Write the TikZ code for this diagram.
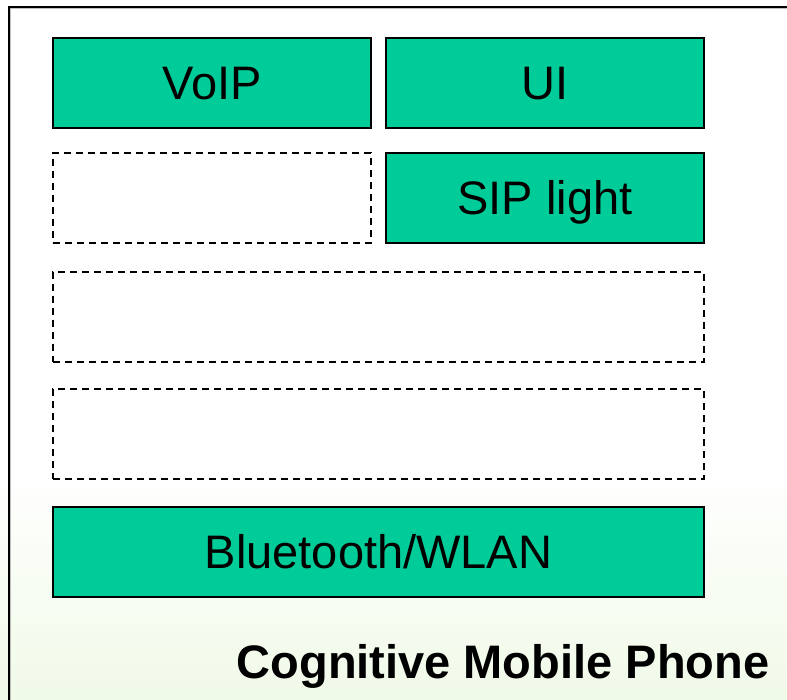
\documentclass[tikz,border=0pt]{standalone}
\usepackage{fontspec}
\setmainfont{Liberation Sans}
\definecolor{boxgreen}{RGB}{0,204,153}
\definecolor{bgtint}{RGB}{240,250,232}
\begin{document}
\begin{tikzpicture}[x=1pt,y=-1pt,
  layer/.style={rectangle, inner sep=0pt, outer sep=0pt, minimum height=90pt,
    text height=33.5pt, text depth=0pt, font=\fontsize{47}{50}\selectfont},
  greenbox/.style={layer, draw=black, line width=2pt, fill=boxgreen},
  emptybox/.style={layer, draw=black, line width=1.3pt, dash pattern=on 7pt off 5pt},
  half/.style={minimum width=318pt},
  full/.style={minimum width=651pt}]
\useasboundingbox (0,0) rectangle (787,700);
\clip (0,0) rectangle (787,700);
\fill[white] (0,0) rectangle (787,700);
\shade[top color=white, bottom color=bgtint] (0,470) rectangle (787,700);
% outer frame
\draw[line width=3pt, black!25] (9.5,720) -- (9.5,8) -- (800,8);
\draw[line width=2pt] (8.5,720) -- (8.5,7) -- (800,7);
% layers
\node[greenbox, half] (voip) at (212,83) {VoIP};
\node[greenbox, half] (ui) at (545,83) {UI};
\node[emptybox, half] (empty1) at (212,198) {};
\node[greenbox, half] (sip) at (545,198) {SIP light};
\node[emptybox, full] (empty2) at (378.5,317) {};
\node[emptybox, full] (empty3) at (378.5,434) {};
\node[greenbox, full] (bt) at (378.5,552) {Bluetooth/WLAN};
\node[anchor=base, inner sep=0pt, font=\fontsize{47}{50}\selectfont\bfseries] (title) at (503,678) {Cognitive Mobile Phone};
\end{tikzpicture}
\end{document}
